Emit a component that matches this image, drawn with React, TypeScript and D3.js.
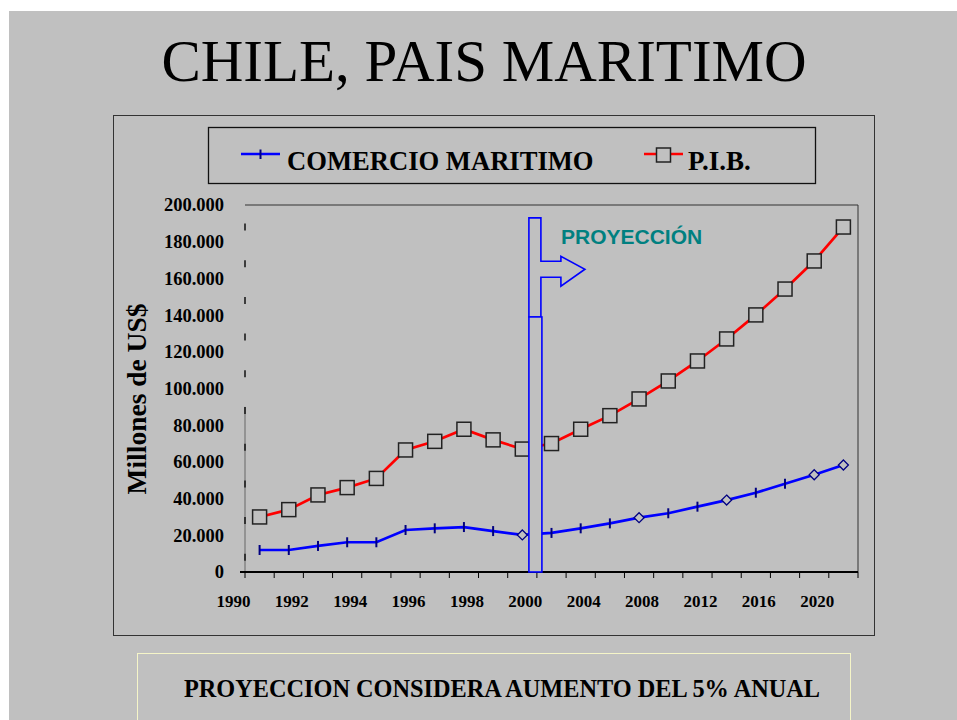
import React from 'react';
import * as d3 from 'd3';

const categories = [1991, 1992, 1993, 1994, 1995, 1996, 1997, 1998, 1999, 2000, 2002, 2004, 2006, 2008, 2010, 2012, 2014, 2016, 2018, 2020, 2022];
const comercio = [12000, 12000, 14200, 16200, 16200, 22900, 23800, 24500, 22300, 20200, 21300, 23800, 26500, 29600, 32000, 35600, 39200, 43200, 48100, 53000, 58300];
const pib = [30000, 34000, 42000, 46000, 51000, 66500, 71200, 77800, 72000, 67000, 70000, 77800, 85200, 94300, 104100, 115000, 127000, 140100, 154200, 169500, 188000];
const diamondYears = [2000, 2008, 2014, 2020, 2022];
const yTicks = [0, 20000, 40000, 60000, 80000, 100000, 120000, 140000, 160000, 180000, 200000];
const xTickLabels = ['1990', '1992', '1994', '1996', '1998', '2000', '2004', '2008', '2012', '2016', '2020'];
const projectionStartYear = 2002;
const projectionTop = 193000;
const projectionSplit = 139000;
const arrowValue = 165000;

const title = 'CHILE, PAIS MARITIMO';
const yTitle = 'Millones de US$';
const seriesNames = ['COMERCIO MARITIMO', 'P.I.B.'];
const projLabel = 'PROYECCIÓN';
const footnote = 'PROYECCION CONSIDERA AUMENTO DEL 5% ANUAL';

const SERIF = '"Liberation Serif", "Times New Roman", serif';
const SANS = '"Liberation Sans", Arial, sans-serif';
const BG = '#C0C0C0';

export default function App() {
  const W = 957, H = 720;
  const left = 245, right = 858, top = 205, bottom = 572;

  const x = d3.scaleBand<number>().domain(categories).range([left, right]).padding(0);
  const bw = x.bandwidth();
  const cx = (c: number) => (x(c) as number) + bw / 2;
  const y = d3.scaleLinear().domain([0, 200000]).range([bottom, top]);
  const fmt = (v: number) => d3.format(',')(v).replace(/,/g, '.');

  const line = d3.line<number>().x((_, i) => cx(categories[i])).y((d) => y(d));

  const boundaries = categories.map((c) => x(c) as number).concat([right]);

  // projection marker geometry
  const bx = x(projectionStartYear) as number;
  const sl = bx - 8, sr = bx + 4, rr = bx + 5;
  const yT = y(projectionTop), yS = y(projectionSplit), yA = y(arrowValue);
  const shaftEnd = sr + 20, tip = sr + 44;
  const arrowPath = [
    `M${sl},${yT}`, `L${sr},${yT}`, `L${sr},${yA - 8}`, `L${shaftEnd},${yA - 8}`,
    `L${shaftEnd},${yA - 13}`, `L${tip},${yA}`, `L${shaftEnd},${yA + 17}`, `L${shaftEnd},${yA + 8}`,
    `L${sr},${yA + 8}`, `L${sr},${yS}`, `L${sl},${yS}`, 'Z',
  ].join(' ');

  return (
    <svg width={W} height={H} style={{ position: 'absolute', left: 0, top: 0, background: '#fff' }}>
      <rect x={9} y={11} width={W} height={H} fill={BG} />
      <text x={484} y={81} textAnchor="middle" fontFamily={SERIF} fontSize={59} fill="#000">{title}</text>

      {/* chart frame */}
      <rect x={113.5} y={115.5} width={761} height={520} fill={BG} stroke="#333" strokeWidth={1} />

      {/* legend */}
      <rect x={208.5} y={127.5} width={607} height={56} fill={BG} stroke="#111" strokeWidth={1.3} />
      <line x1={241} x2={280} y1={154} y2={154} stroke="#0000FF" strokeWidth={2.5} />
      <line x1={260.5} x2={260.5} y1={149.5} y2={159} stroke="#000080" strokeWidth={2} />
      <text x={287} y={170} fontFamily={SERIF} fontWeight="bold" fontSize={26.6} fill="#000">{seriesNames[0]}</text>
      <line x1={644} x2={683} y1={154} y2={154} stroke="#FF0000" strokeWidth={2.5} />
      <rect x={656.5} y={148} width={14} height={14} fill={BG} stroke="#222" strokeWidth={1.5} />
      <text x={688} y={170} fontFamily={SERIF} fontWeight="bold" fontSize={27} fill="#000">{seriesNames[1]}</text>

      {/* plot border top/right */}
      <line x1={left} x2={right} y1={top} y2={top} stroke="#333" strokeWidth={1} />
      <line x1={right} x2={right} y1={top} y2={bottom} stroke="#333" strokeWidth={1} />

      {/* y axis */}
      <line x1={left} x2={left} y1={y(90000)} y2={bottom} stroke="#666" strokeWidth={1} />
      {yTicks.slice(0, -1).map((v) => (
        <line key={'m' + v} x1={left} x2={left} y1={y(v + 8000) - 3.5} y2={y(v + 8000) + 3.5} stroke="#111" strokeWidth={1.5} />
      ))}
      {yTicks.map((v) => (
        <text key={'y' + v} x={224} y={y(v)} dy="0.35em" textAnchor="end" fontFamily={SERIF} fontWeight="bold" fontSize={18.5} fill="#000">{fmt(v)}</text>
      ))}
      <text transform={`translate(146,399) rotate(-90)`} textAnchor="middle" fontFamily={SERIF} fontWeight="bold" fontSize={27.5} fill="#000">{yTitle}</text>

      {/* x axis */}
      <line x1={240} x2={right} y1={bottom} y2={bottom} stroke="#000" strokeWidth={2} />
      {boundaries.map((b, i) => (
        <line key={'t' + i} x1={b} x2={b} y1={bottom} y2={bottom + 6} stroke="#000" strokeWidth={1} />
      ))}
      {xTickLabels.map((lab, k) => (
        <text key={lab} x={left + (2 * k - 1 + 0.5) * bw + 3} y={607} textAnchor="middle" fontFamily={SERIF} fontWeight="bold" fontSize={17} fill="#000">{lab}</text>
      ))}

      {/* series lines */}
      <path d={line(pib) || ''} fill="none" stroke="#FF0000" strokeWidth={2.7} />
      <path d={line(comercio) || ''} fill="none" stroke="#0000FF" strokeWidth={2.7} />

      {/* markers */}
      {pib.map((v, i) => (
        <rect key={'p' + i} x={cx(categories[i]) - 7} y={y(v) - 7} width={14} height={14} fill={BG} stroke="#222" strokeWidth={1.5} />
      ))}
      {comercio.map((v, i) => {
        const px = cx(categories[i]), py = y(v);
        return diamondYears.includes(categories[i]) ? (
          <path key={'c' + i} d={`M${px},${py - 5} L${px + 5},${py} L${px},${py + 5} L${px - 5},${py} Z`} fill={BG} stroke="#000080" strokeWidth={1.3} />
        ) : (
          <line key={'c' + i} x1={px} x2={px} y1={py - 5} y2={py + 5} stroke="#000080" strokeWidth={2} />
        );
      })}

      {/* projection marker */}
      <path d={arrowPath} fill={BG} stroke="#0000FF" strokeWidth={1.6} />
      <rect x={sl} y={yS} width={rr - sl} height={y(0) - yS} fill={BG} stroke="#0000FF" strokeWidth={1.6} />
      <text x={561} y={244} fontFamily={SANS} fontWeight="bold" fontSize={21} fill="#008080">{projLabel}</text>

      {/* footnote box */}
      <rect x={137.5} y={653.5} width={713} height={80} fill={BG} stroke="#F5F5C8" strokeWidth={1} />
      <text x={502} y={697} textAnchor="middle" fontFamily={SERIF} fontWeight="bold" fontSize={24.3} fill="#000">{footnote}</text>
    </svg>
  );
}
